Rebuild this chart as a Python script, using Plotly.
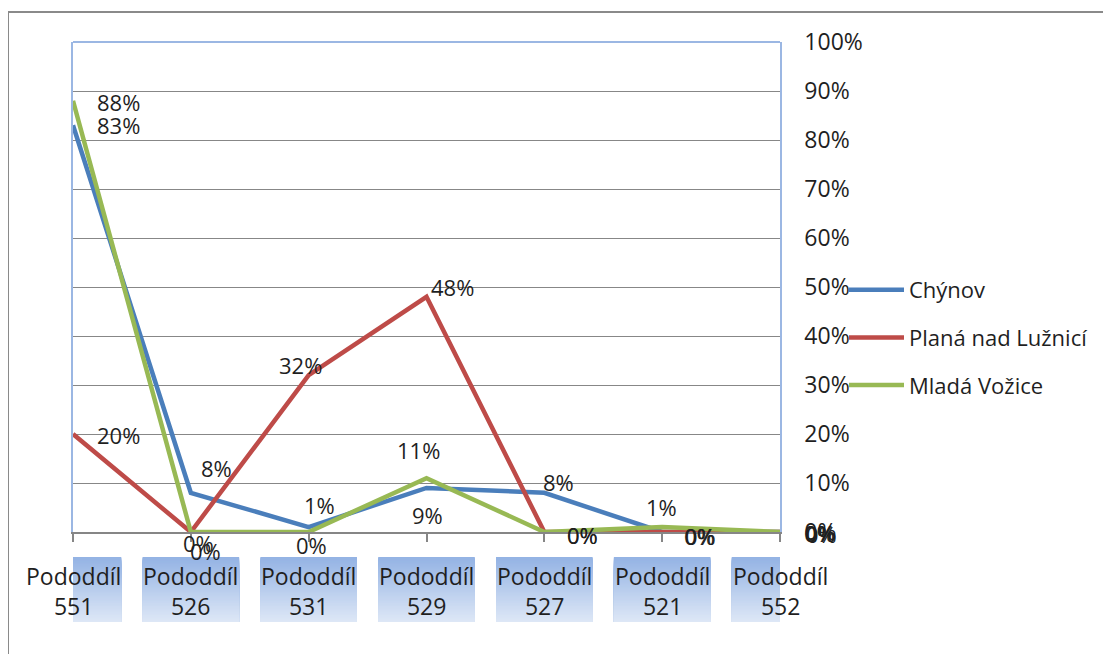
import plotly.graph_objects as go

categories = ["Pododdíl 551", "Pododdíl 526", "Pododdíl 531", "Pododdíl 529",
              "Pododdíl 527", "Pododdíl 521", "Pododdíl 552"]
series_names = ["Chýnov", "Planá nad Lužnicí", "Mladá Vožice"]
chynov = [0.83, 0.08, 0.01, 0.09, 0.08, 0.00, 0.00]
plana = [0.20, 0.00, 0.32, 0.48, 0.00, 0.00, 0.00]
mlada = [0.88, 0.00, 0.00, 0.11, 0.00, 0.01, 0.00]
y_ticks = [0.0, 0.1, 0.2, 0.3, 0.4, 0.5, 0.6, 0.7, 0.8, 0.9, 1.0]

colors = ["#4a7ebb", "#be4b48", "#98b954"]
# label offsets (px, right / down) per series
offsets = [
    [(45, 0), (26, -25), (11, -22), (1, 27), (14, -11), (37, 4), (40, 1)],
    [(45, 1), (8, 11), (-8, -10), (26, -10), (38, 3), (38, 4), (41, 2)],
    [(45, 1), (15, 19), (3, 13), (-8, -28), (38, 3), (-1, -20), (39, 1)],
]

FONT = "Open Sans"
TXT = "#1f1f1f"

# pixel (reference) -> paper helpers (plot area: x 73..780, y 42..532)
def px(xp):
    return (xp - 73) / 707.0

def py(yp):
    return (532 - yp) / 490.0

xs = list(range(len(categories)))
fig = go.Figure()
for i, (name, vals) in enumerate(zip(series_names, [chynov, plana, mlada])):
    fig.add_trace(go.Scatter(
        x=xs, y=vals, mode="lines", name=name,
        line=dict(color=colors[i], width=4.5),
        legendgroup=f"g{i}",
        cliponaxis=False,
    ))

annotations = []
for i, vals in enumerate([chynov, plana, mlada]):
    for j, v in enumerate(vals):
        dx, dy = offsets[i][j]
        annotations.append(dict(
            x=j, y=v, xref="x", yref="y", text=f"{round(v*100)}%",
            showarrow=False, xshift=dx, yshift=-dy,
            font=dict(family=FONT, size=22, color=TXT),
            xanchor="center", yanchor="middle",
        ))

shapes = []
# category boxes with vertical gradient (overlapping bands, no gaps)
top_c = (148, 179, 228)
bot_c = (221, 231, 246)
nb = 60
y_top, y_bot = py(557), py(622)
for j, cat in enumerate(categories):
    for b in range(nb):
        t = b / (nb - 1)
        c = tuple(round(top_c[k] + (bot_c[k] - top_c[k]) * t) for k in range(3))
        y0 = y_top + (y_bot - y_top) * b / nb
        shapes.append(dict(type="rect", xref="x", yref="paper",
                           x0=j - 0.41, x1=j + 0.41, y0=y0, y1=y_bot,
                           fillcolor=f"rgb{c}", line=dict(width=0), layer="below"))
    annotations.append(dict(
        x=j, y=py(591), xref="x", yref="paper",
        text=cat.replace(" ", "<br>"), showarrow=False,
        font=dict(family=FONT, size=23, color=TXT),
        xanchor="center", yanchor="middle",
    ))

# top border of plot area (light blue)
shapes.append(dict(type="line", xref="paper", yref="paper", x0=0, x1=1, y0=1, y1=1,
                   line=dict(color="#9bb7e3", width=2)))
# outer chart frame
shapes.append(dict(type="line", xref="paper", yref="paper", x0=px(8), x1=px(1111),
                   y0=py(12), y1=py(12), line=dict(color="#8a8a8a", width=2)))
shapes.append(dict(type="line", xref="paper", yref="paper", x0=px(8), x1=px(8),
                   y0=py(12), y1=py(660), line=dict(color="#8a8a8a", width=2)))

fig.update_layout(
    width=1103, height=646,
    margin=dict(l=65, r=331, t=34, b=122),
    paper_bgcolor="white", plot_bgcolor="white",
    font=dict(family=FONT, size=22, color=TXT),
    xaxis=dict(range=[0, 6], tickvals=xs, showticklabels=False,
               showgrid=False, zeroline=False,
               showline=True, linecolor="#868686", linewidth=2,
               ticks="outside", ticklen=8, tickcolor="#868686", tickwidth=1.5),
    yaxis=dict(range=[0, 1], side="right", tickvals=y_ticks, tickformat=".0%",
               showgrid=True, gridcolor="#878787", gridwidth=1, zeroline=False,
               showline=True, linecolor="#9bb7e3", linewidth=1.5, mirror=True,
               ticks="", ticklabelstandoff=18,
               tickfont=dict(family=FONT, size=23, color=TXT)),
    showlegend=True,
    legend=dict(x=px(844), y=py(269), xanchor="left", yanchor="top",
                xref="paper", yref="paper", itemwidth=55,
                font=dict(family=FONT, size=22, color=TXT),
                tracegroupgap=16, bgcolor="rgba(0,0,0,0)"),
    annotations=annotations,
    shapes=shapes,
)

fig.write_html("out.html")
